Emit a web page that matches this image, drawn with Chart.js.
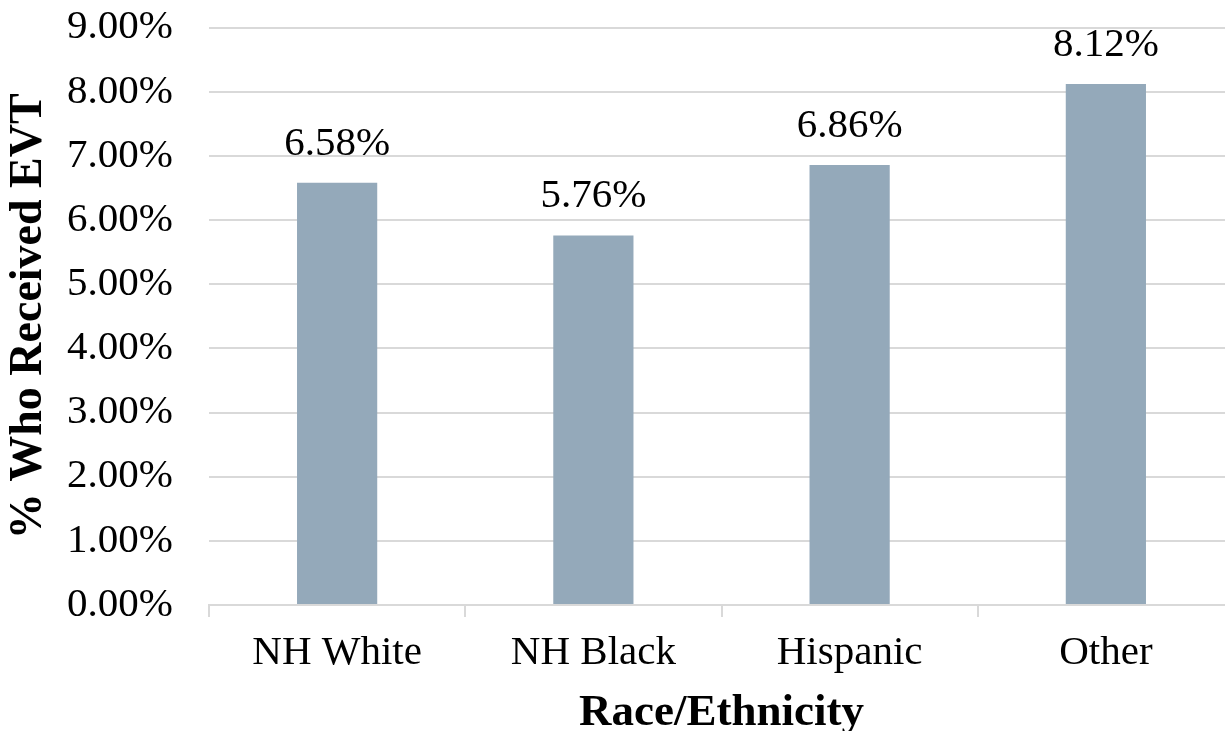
<!DOCTYPE html>
<html>
<head>
<meta charset="utf-8">
<script src="https://cdn.jsdelivr.net/npm/chart.js@4/dist/chart.umd.min.js"></script>
<style>
  html, body { margin: 0; padding: 0; background: #fff; overflow: hidden; }
  #wrap { width: 1234px; height: 731px; }
</style>
</head>
<body>
<div id="wrap"><canvas id="bar_chart"></canvas></div>
<script>
// data
var groups = ["NH White", "NH Black", "Hispanic", "Other"];
var evt_pct = [6.58, 5.76, 6.86, 8.12];
var y_ticks = [0, 1, 2, 3, 4, 5, 6, 7, 8, 9];

var serif = "'Liberation Serif', 'Times New Roman', serif";

// draws the value above every bar
var barLabels = {
  id: 'barLabels',
  afterDatasetsDraw: function(chart) {
    var ctx = chart.ctx;
    var meta = chart.getDatasetMeta(0);
    ctx.save();
    ctx.font = "41px " + serif;
    ctx.fillStyle = "#000";
    ctx.textAlign = "center";
    ctx.textBaseline = "alphabetic";
    meta.data.forEach(function(bar, i) {
      ctx.fillText(evt_pct[i].toFixed(2) + "%", bar.x, bar.y - 28);
    });
    ctx.restore();
  }
};

var ctx = document.getElementById("bar_chart");
var bar_chart = new Chart(ctx, {
  type: 'bar',
  data: {
    labels: groups,
    datasets: [{
      data: evt_pct,
      backgroundColor: "#94a9ba",
      borderWidth: 0,
      barPercentage: 0.313,
      categoryPercentage: 1
    }]
  },
  options: {
    responsive: true,
    maintainAspectRatio: false,
    animation: false,
    layout: { padding: { top: 5, left: 0, right: 0, bottom: 0 } },
    plugins: {
      legend: { display: false },
      tooltip: { enabled: false }
    },
    scales: {
      x: {
        afterFit: function(axis) { axis.height = 126; },
        grid: {
          offset: true,
          drawOnChartArea: false,
          drawTicks: true,
          tickLength: 12,
          color: "#d9d9d9",
          lineWidth: 2
        },
        border: { display: true, color: "#d9d9d9", width: 2 },
        ticks: {
          color: "#000",
          font: { family: serif, size: 41 },
          padding: 12
        },
        title: {
          display: true,
          text: "Race/Ethnicity",
          color: "#000",
          font: { family: serif, size: 45, weight: 'bold', lineHeight: 0.8 },
          padding: { top: 0, bottom: 0 }
        }
      },
      y: {
        min: 0,
        max: 9,
        afterFit: function(axis) { axis.width = 209; },
        afterBuildTicks: function(axis) {
          axis.ticks = y_ticks.map(function(v) { return { value: v }; });
        },
        grid: {
          color: "#d9d9d9",
          lineWidth: 2,
          drawTicks: true,
          tickLength: 33,
          tickColor: "rgba(0,0,0,0)"
        },
        border: { display: false },
        ticks: {
          color: "#000",
          font: { family: serif, size: 41 },
          padding: 3,
          callback: function(value) { return value.toFixed(2) + "%"; }
        },
        title: {
          display: true,
          text: "% Who Received EVT",
          color: "#000",
          font: { family: serif, size: 46, weight: 'bold' },
          padding: { top: 2, bottom: 0 }
        }
      }
    }
  },
  plugins: [barLabels]
});
</script>
</body>
</html>
